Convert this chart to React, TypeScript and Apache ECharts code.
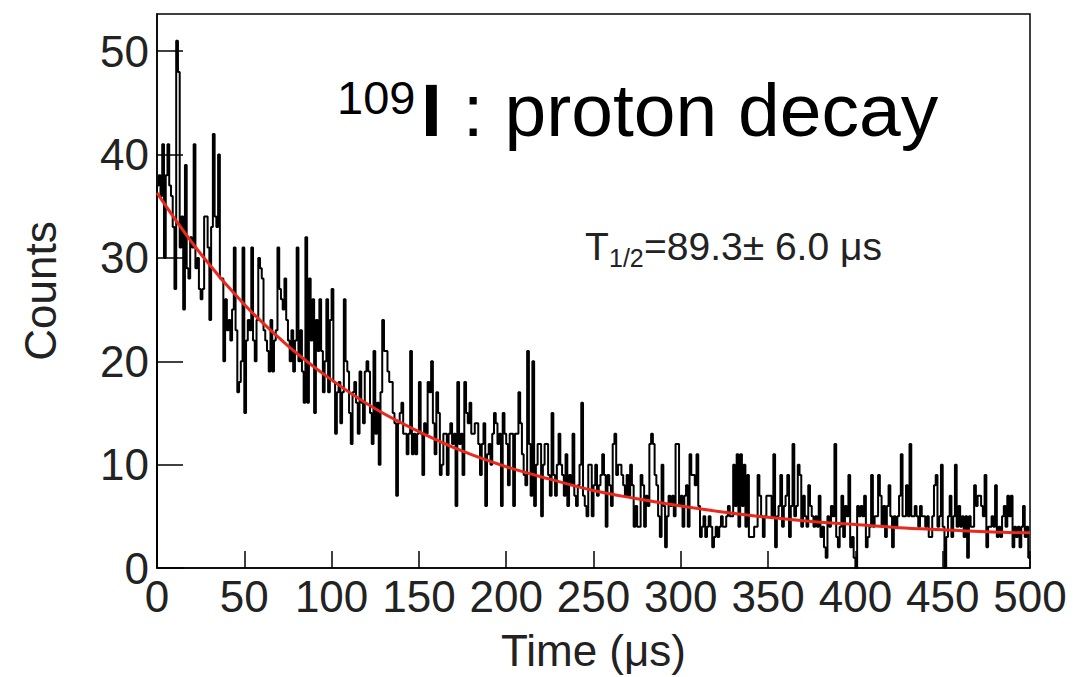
import React, { useEffect, useRef } from "react";
import * as echarts from "echarts";

// Histogram counts per 1 µs bin, bins 0..499
const counts0 = [
  37, 38, 36, 41, 30, 38, 41, 37, 36, 33, 27, 51, 48, 31, 34, 25, 39, 29, 28, 32,
  31, 41, 29, 30, 27, 26, 27, 34, 34, 31, 24, 33, 42, 34, 33, 40, 28, 28, 20, 26,
  23, 24, 22, 25, 31, 23, 17, 18, 20, 31, 15, 22, 24, 23, 31, 22, 20, 24, 30, 29,
  28, 23, 22, 21, 19, 24, 19, 22, 23, 31, 27, 26, 25, 28, 24, 22, 20, 23, 19, 22,
  31, 20, 23, 19, 16, 32, 16, 28, 22, 26, 15, 24, 21, 26, 21, 17, 20, 26, 17, 24,
];
const counts100 = [
  27, 18, 13, 17, 18, 14, 17, 26, 20, 19, 15, 12, 17, 18, 16, 13, 19, 16, 14, 19,
  20, 19, 15, 12, 21, 13, 16, 10, 17, 24, 21, 21, 19, 18, 18, 15, 14, 7, 14, 15,
  16, 13, 13, 11, 13, 21, 11, 13, 11, 13, 18, 13, 9, 14, 13, 18, 17, 20, 14, 11,
  17, 15, 9, 10, 13, 13, 9, 13, 14, 12, 13, 6, 18, 12, 13, 9, 18, 15, 14, 16,
  13, 13, 14, 14, 12, 9, 12, 14, 6, 11, 12, 10, 13, 15, 14, 12, 13, 6, 15, 13,
];
const counts200 = [
  12, 8, 13, 13, 6, 13, 13, 17, 14, 11, 9, 8, 21, 12, 7, 20, 6, 10, 12, 12,
  5, 10, 12, 12, 9, 7, 15, 9, 7, 10, 13, 10, 9, 7, 11, 6, 9, 8, 13, 7,
  6, 8, 10, 16, 7, 6, 5, 10, 10, 5, 8, 10, 7, 8, 9, 11, 9, 4, 9, 8,
  6, 12, 13, 9, 10, 10, 9, 8, 7, 9, 7, 10, 8, 4, 6, 4, 4, 9, 8, 4,
  7, 6, 12, 13, 12, 9, 8, 5, 3, 10, 6, 2, 5, 7, 6, 7, 5, 12, 12, 6,
];
const counts300 = [
  7, 4, 7, 8, 4, 11, 9, 9, 8, 11, 6, 3, 4, 5, 3, 4, 5, 4, 2, 3,
  4, 3, 4, 5, 4, 4, 5, 6, 5, 5, 10, 6, 11, 4, 11, 6, 10, 4, 9, 3,
  3, 3, 4, 4, 9, 7, 5, 3, 5, 7, 7, 7, 5, 11, 2, 5, 6, 9, 4, 6,
  7, 9, 3, 6, 12, 5, 6, 10, 9, 4, 7, 5, 4, 8, 6, 5, 4, 5, 4, 7,
  3, 4, 2, 1, 5, 4, 6, 5, 12, 3, 2, 4, 7, 3, 6, 5, 9, 2, 3, 1,
];
const counts400 = [
  0, 6, 5, 6, 5, 7, 2, 3, 4, 9, 4, 5, 5, 9, 7, 4, 6, 3, 6, 8,
  5, 2, 5, 4, 5, 7, 11, 5, 5, 8, 5, 12, 5, 5, 6, 5, 4, 6, 5, 5,
  4, 5, 3, 3, 5, 8, 9, 4, 5, 10, 4, 0, 3, 5, 7, 3, 5, 10, 4, 6,
  4, 5, 3, 5, 1, 5, 4, 4, 8, 6, 7, 7, 6, 5, 9, 2, 4, 4, 5, 4,
  8, 3, 4, 3, 5, 6, 4, 7, 5, 7, 2, 4, 3, 4, 2, 4, 6, 3, 4, 1,
];

// Fit curve (µs, counts)
const fitTimes = [0, 25, 50, 75, 100, 125, 150, 175, 200, 225, 250, 275, 300, 325, 350, 375, 400, 425, 450, 475, 500];
const fitValues = [36.3, 30.4, 25.5, 21.5, 18.2, 15.4, 13.2, 11.3, 9.8, 8.6, 7.5, 6.7, 6.0, 5.4, 4.9, 4.5, 4.2, 3.9, 3.7, 3.5, 3.4];

const xTicks = [0, 50, 100, 150, 200, 250, 300, 350, 400, 450, 500];
const yTicks = [0, 10, 20, 30, 40, 50];

const FONT = "'Liberation Sans', Arial, Helvetica, sans-serif";

export default function App() {
  const ref = useRef<HTMLDivElement>(null);

  useEffect(() => {
    if (!ref.current) return;
    const chart = echarts.init(ref.current, undefined, { renderer: "svg" });

    const counts = [...counts0, ...counts100, ...counts200, ...counts300, ...counts400];
    const histData: number[][] = [[0, 0]];
    counts.forEach((v, i) => histData.push([i, v]));
    histData.push([counts.length, counts[counts.length - 1]]);
    const fitData = fitTimes.map((t, i) => [t, fitValues[i]]);

    chart.setOption({
      animation: false,
      backgroundColor: "#ffffff",
      grid: {
        left: 157,
        right: 44,
        top: 14,
        bottom: 105,
        show: true,
        borderColor: "#000",
        borderWidth: 1.5,
        backgroundColor: "transparent",
      },
      xAxis: {
        type: "value",
        min: xTicks[0],
        max: xTicks[xTicks.length - 1],
        interval: 50,
        name: "Time (μs)",
        nameLocation: "middle",
        nameGap: 60,
        nameTextStyle: { fontFamily: FONT, fontSize: 44, color: "#222" },
        axisLine: { show: true, onZero: false, lineStyle: { color: "#000", width: 1.5 } },
        axisTick: { show: true, inside: true, length: 17, lineStyle: { color: "#000", width: 1.5 } },
        axisLabel: { fontFamily: FONT, fontSize: 44, color: "#222", margin: 6 },
        splitLine: { show: false },
      },
      yAxis: {
        type: "value",
        min: yTicks[0],
        max: 53.6,
        interval: 10,
        name: "Counts",
        nameLocation: "middle",
        nameGap: 95,
        nameTextStyle: { fontFamily: FONT, fontSize: 44, color: "#222" },
        axisLine: { show: true, lineStyle: { color: "#000", width: 1.5 } },
        axisTick: { show: true, inside: true, length: 26, lineStyle: { color: "#000", width: 1.5 } },
        axisLabel: {
          fontFamily: FONT,
          fontSize: 44,
          color: "#222",
          margin: 8,
          showMaxLabel: false,
          formatter: (v: number) => (yTicks.includes(v) ? String(v) : ""),
        },
        splitLine: { show: false },
      },
      series: [
        {
          type: "line",
          data: histData,
          step: "end",
          showSymbol: false,
          symbol: "none",
          lineStyle: { color: "#000", width: 2 },
          z: 2,
        },
        {
          type: "line",
          data: fitData,
          smooth: 0.4,
          showSymbol: false,
          symbol: "none",
          lineStyle: { color: "#e8291c", width: 3 },
          z: 3,
        },
      ],
      graphic: [
        {
          type: "text",
          x: 337,
          y: 97,
          style: { text: "109", font: `47px ${FONT}`, fill: "#000", align: "left", verticalAlign: "middle" },
        },
        {
          type: "text",
          x: 421,
          y: 110,
          style: { text: "I", font: `bold 75px ${FONT}`, fill: "#000", align: "left", verticalAlign: "middle" },
        },
        {
          type: "text",
          x: 442,
          y: 110,
          style: { text: " : proton decay", font: `75px ${FONT}`, fill: "#000", align: "left", verticalAlign: "middle" },
        },
        {
          type: "text",
          x: 585,
          y: 246,
          style: { text: "T", font: `39px ${FONT}`, fill: "#222", align: "left", verticalAlign: "middle" },
        },
        {
          type: "text",
          x: 609,
          y: 258,
          style: { text: "1/2", font: `25px ${FONT}`, fill: "#222", align: "left", verticalAlign: "middle" },
        },
        {
          type: "text",
          x: 644,
          y: 246,
          style: { text: "=89.3± 6.0 μs", font: `39px ${FONT}`, fill: "#222", align: "left", verticalAlign: "middle" },
        },
      ],
    });

    return () => chart.dispose();
  }, []);

  return (
    <div
      ref={ref}
      style={{ position: "absolute", left: 0, top: 0, width: 1074, height: 677, background: "#fff" }}
    />
  );
}
